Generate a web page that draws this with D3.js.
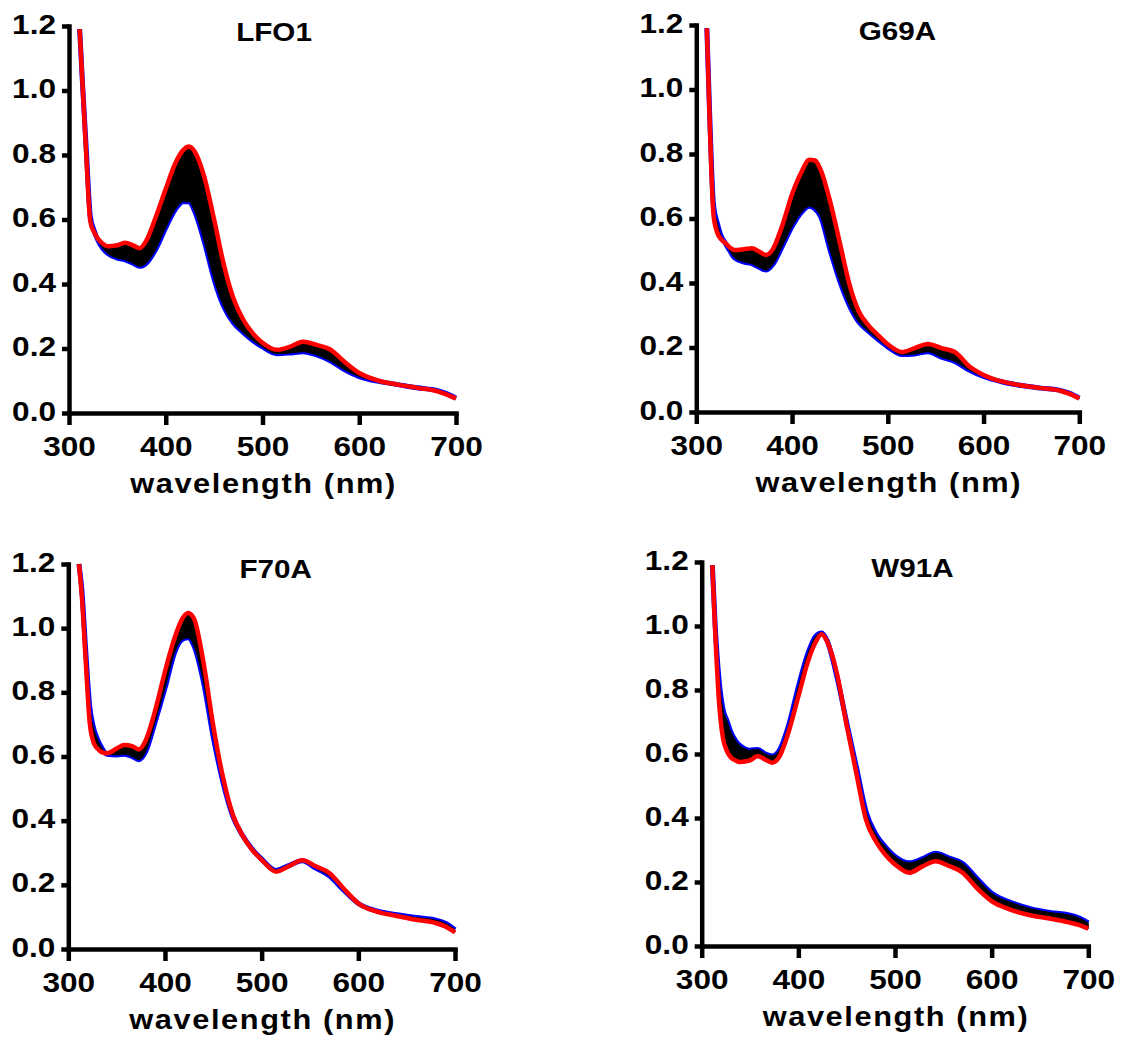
<!DOCTYPE html>
<html>
<head>
<meta charset="utf-8">
<script src="https://cdn.jsdelivr.net/npm/d3@7"></script>
<style>
  html, body { margin: 0; padding: 0; background: #fff; }
  svg { display: block; }
  text { font-family: "Liberation Sans", Arial, sans-serif; font-weight: bold; fill: #000; }
</style>
</head>
<body>
<svg id="chart" width="1122" height="1038"></svg>
<script>
// Wavelength grid (nm) shared by every spectrum
const wavelengths = [311, 314, 318, 322, 326, 330, 335, 340, 350, 358, 366, 373, 380, 390, 400, 410, 418, 424, 430, 440, 450, 460, 470, 480, 490, 500, 515, 528, 542, 556, 570, 585, 600, 620, 640, 660, 680, 690, 700];

// Panel titles
const titles = ["LFO1", "G69A", "F70A", "W91A"];

// Absorbance of the first scan (blue) and the last scan (red) for each protein
const lfo1First = [1.19, 1.02, 0.81, 0.61, 0.565, 0.535, 0.51, 0.495, 0.48, 0.475, 0.465, 0.455, 0.465, 0.51, 0.575, 0.632, 0.655, 0.655, 0.625, 0.53, 0.415, 0.33, 0.28, 0.25, 0.225, 0.205, 0.184, 0.186, 0.19, 0.18, 0.162, 0.134, 0.113, 0.098, 0.088, 0.078, 0.07, 0.06, 0.046];
const lfo1Last  = [1.19, 1.02, 0.79, 0.595, 0.56, 0.54, 0.525, 0.517, 0.52, 0.528, 0.52, 0.511, 0.535, 0.61, 0.695, 0.775, 0.815, 0.826, 0.81, 0.73, 0.6, 0.46, 0.355, 0.29, 0.247, 0.218, 0.196, 0.205, 0.221, 0.211, 0.197, 0.158, 0.124, 0.1, 0.088, 0.078, 0.068, 0.058, 0.045];

const g69aFirst = [1.19, 0.92, 0.64, 0.585, 0.545, 0.525, 0.5, 0.478, 0.465, 0.46, 0.448, 0.44, 0.458, 0.515, 0.575, 0.62, 0.638, 0.63, 0.605, 0.5, 0.405, 0.33, 0.278, 0.25, 0.225, 0.202, 0.178, 0.18, 0.187, 0.17, 0.157, 0.13, 0.11, 0.093, 0.082, 0.074, 0.067, 0.058, 0.043];
const g69aLast  = [1.19, 0.9, 0.61, 0.555, 0.535, 0.525, 0.51, 0.502, 0.505, 0.508, 0.497, 0.487, 0.505, 0.58, 0.675, 0.745, 0.782, 0.78, 0.75, 0.65, 0.523, 0.395, 0.31, 0.268, 0.238, 0.21, 0.186, 0.198, 0.211, 0.198, 0.186, 0.142, 0.115, 0.094, 0.082, 0.074, 0.066, 0.056, 0.042];

const f70aFirst = [1.2, 1.12, 0.93, 0.76, 0.69, 0.655, 0.625, 0.607, 0.605, 0.607, 0.6, 0.59, 0.615, 0.71, 0.813, 0.925, 0.965, 0.97, 0.945, 0.83, 0.66, 0.52, 0.415, 0.355, 0.312, 0.28, 0.245, 0.26, 0.275, 0.252, 0.228, 0.183, 0.142, 0.118, 0.107, 0.098, 0.09, 0.08, 0.06];
const f70aLast  = [1.2, 1.1, 0.9, 0.71, 0.645, 0.625, 0.613, 0.61, 0.625, 0.636, 0.632, 0.622, 0.65, 0.745, 0.865, 0.97, 1.03, 1.047, 1.03, 0.89, 0.695, 0.535, 0.42, 0.355, 0.31, 0.278, 0.241, 0.258, 0.277, 0.258, 0.237, 0.188, 0.142, 0.116, 0.103, 0.091, 0.081, 0.07, 0.052];

const w91aFirst = [1.19, 1.0, 0.83, 0.74, 0.705, 0.67, 0.642, 0.625, 0.612, 0.614, 0.6, 0.594, 0.61, 0.69, 0.81, 0.915, 0.968, 0.978, 0.952, 0.84, 0.698, 0.56, 0.42, 0.35, 0.31, 0.28, 0.26, 0.272, 0.29, 0.275, 0.258, 0.21, 0.165, 0.136, 0.117, 0.105, 0.097, 0.088, 0.072];
const w91aLast  = [1.19, 0.98, 0.76, 0.65, 0.61, 0.59, 0.58, 0.575, 0.58, 0.594, 0.582, 0.573, 0.59, 0.67, 0.78, 0.89, 0.95, 0.974, 0.95, 0.85, 0.69, 0.54, 0.395, 0.328, 0.285, 0.255, 0.229, 0.248, 0.265, 0.25, 0.229, 0.18, 0.14, 0.113, 0.096, 0.086, 0.074, 0.066, 0.054];

// Axis ticks
const xTicks = [300, 400, 500, 600, 700];
const yTicks = [0, 0.2, 0.4, 0.6, 0.8, 1.0, 1.2];
const xLabel = "wavelength (nm)";

const firstScans = [lfo1First, g69aFirst, f70aFirst, w91aFirst];
const lastScans  = [lfo1Last, g69aLast, f70aLast, w91aLast];

// Plot frames (pixel bounds of each panel's axes) and title anchors
const frames = [
  { left: 69,    right: 456,    top: 26,  bottom: 413, titleX: 274,   titleY: 41 },
  { left: 696.3, right: 1079.3, top: 25,  bottom: 412, titleX: 897.5, titleY: 40 },
  { left: 68.3,  right: 455,    top: 564, bottom: 949, titleX: 275.7, titleY: 578 },
  { left: 701.7, right: 1088.3, top: 562, bottom: 946, titleX: 912.5, titleY: 577 }
];

const TICK_STRETCH = 1.17;   // horizontal stretch of tick lettering
const TEXT_STRETCH = 1.14;   // horizontal stretch of titles and axis label
const TICK_FONT = 27;
const TITLE_FONT = 26;
const LABEL_FONT = 27;
const AXIS_W = 4.5;
const LINE_W = 4.5;

const svg = d3.select("#chart");
svg.append("rect").attr("width", 1122).attr("height", 1038).attr("fill", "#fff");

titles.forEach((title, i) => {
  const f = frames[i];
  const g = svg.append("g");
  const x = d3.scaleLinear().domain([300, 700]).range([f.left, f.right]);
  const y = d3.scaleLinear().domain([0, 1.2]).range([f.bottom, f.top]);

  const first = wavelengths.map((w, k) => [w, firstScans[i][k]]);
  const last  = wavelengths.map((w, k) => [w, lastScans[i][k]]);
  const band  = wavelengths.map((w, k) => [w, firstScans[i][k], lastScans[i][k]]);

  const line = d3.line().x(d => x(d[0])).y(d => y(d[1])).curve(d3.curveMonotoneX);
  const area = d3.area().x(d => x(d[0])).y0(d => y(d[1])).y1(d => y(d[2])).curve(d3.curveMonotoneX);

  // first scan, then the band of intermediate scans, then the last scan
  g.append("path").datum(first).attr("d", line)
    .attr("fill", "none").attr("stroke", "#0000ff").attr("stroke-width", LINE_W + 0.5)
    .attr("stroke-linejoin", "round");
  g.append("path").datum(band).attr("d", area)
    .attr("fill", "#000").attr("stroke", "#000").attr("stroke-width", 1);
  g.append("path").datum(last).attr("d", line)
    .attr("fill", "none").attr("stroke", "#ff0000").attr("stroke-width", LINE_W)
    .attr("stroke-linejoin", "round");

  // x axis
  const gx = g.append("g").attr("transform", `translate(0,${f.bottom})`)
    .call(d3.axisBottom(x).tickValues(xTicks).tickSize(12).tickSizeOuter(0).tickFormat(d3.format("d")));
  // y axis
  const gy = g.append("g").attr("transform", `translate(${f.left},0)`)
    .call(d3.axisLeft(y).tickValues(yTicks).tickSize(7).tickSizeOuter(0).tickFormat(d3.format(".1f")));

  [gx, gy].forEach(ax => {
    ax.select(".domain").attr("stroke", "#000").attr("stroke-width", AXIS_W).attr("stroke-linecap", "square");
    ax.selectAll(".tick line").attr("stroke", "#000").attr("stroke-width", AXIS_W);
    ax.selectAll(".tick text").attr("font-size", TICK_FONT).attr("fill", "#000")
      .style("font-family", '"Liberation Sans", Arial, sans-serif').style("font-weight", "bold");
  });
  gx.selectAll(".tick text").attr("y", 43).attr("dy", 0)
    .attr("transform", `scale(${TICK_STRETCH},1)`);
  gy.selectAll(".tick text").attr("x", -13 / TICK_STRETCH).attr("y", 7).attr("dy", 0)
    .attr("transform", `scale(${TICK_STRETCH},1)`);

  // title
  g.append("text")
    .attr("transform", `translate(${f.titleX},${f.titleY}) scale(${TEXT_STRETCH},1)`)
    .attr("text-anchor", "middle").attr("font-size", TITLE_FONT)
    .text(title);

  // x axis label
  g.append("text")
    .attr("transform", `translate(${(f.left + f.right) / 2 + 1},${f.bottom + 80}) scale(${TEXT_STRETCH},1)`)
    .attr("text-anchor", "middle").attr("font-size", LABEL_FONT)
    .attr("letter-spacing", 1.4)
    .text(xLabel);
});
</script>
</body>
</html>
